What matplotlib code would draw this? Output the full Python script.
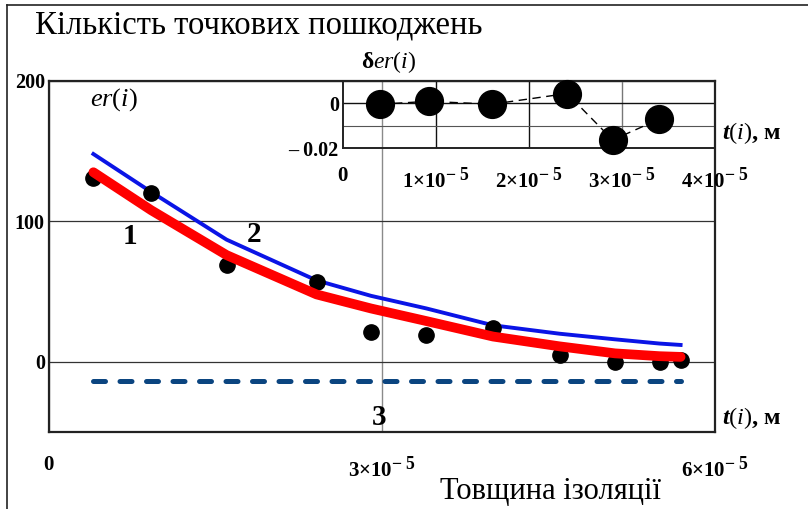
import matplotlib
matplotlib.use("Agg")
import matplotlib.pyplot as plt
import matplotlib._mathtext as _mt
from matplotlib.lines import Line2D

plt.rcParams["font.family"] = ["Liberation Serif", "DejaVu Serif"]
plt.rcParams["mathtext.fontset"] = "custom"
plt.rcParams["mathtext.rm"] = "Liberation Serif"
plt.rcParams["mathtext.it"] = "Liberation Serif:italic"
plt.rcParams["mathtext.bf"] = "Liberation Serif:bold"
plt.rcParams["mathtext.bfit"] = "Liberation Serif:bold:italic"
# exponents in the tick labels are almost as large as the mantissa
_mt.SHRINK_FACTOR = 0.85

# insulation thickness t(i), m
t = [4.0e-6, 9.2e-6, 1.60e-5, 2.41e-5, 2.90e-5, 3.40e-5,
     4.00e-5, 4.60e-5, 5.10e-5, 5.50e-5, 5.69e-5]
# measured number of point defects er(i)
er = [131, 120, 69, 57, 21, 19, 24, 5, 0, 0, 1]
# curve 1 (red) and curve 2 (blue)
curve1 = [135, 108, 76, 48, 38, 29, 18, 11, 6, 4, 3.5]
curve2 = [148, 121, 87, 58, 47, 38, 26, 20, 16, 13, 12]
# curve 3 (dashed)
curve3 = [-14] * len(t)

# relative error δer(i) for the first points
t_err = t[:6]
der = [-0.0004, 0.0009, -0.0004, 0.0044, -0.0164, -0.0071]

main_xticks = [0, 3e-5, 6e-5]
main_xlabels = ["$\\mathbf{0}$", "$\\mathbf{3{\\times}10}^{\\mathbf{-\\ 5}}$",
                "$\\mathbf{6{\\times}10}^{\\mathbf{-\\ 5}}$"]
main_yticks = [0, 100, 200]
main_ylabels = ["0", "100", "200"]
ins_xticks = [0, 1e-5, 2e-5, 3e-5, 4e-5]
ins_xlabels = ["$\\mathbf{0}$"] + ["$\\mathbf{%d{\\times}10}^{\\mathbf{-\\ 5}}$" % k for k in (1, 2, 3, 4)]
ins_yticks = [-0.02, -0.01, 0, 0.01]
ins_ylabels = ["\u2013 0.02", "", "0", ""]

W, H = 808, 509
fig = plt.figure(figsize=(W / 100, H / 100), dpi=100)
fig.patch.set_facecolor("white")

def fx(px):
    return px / W

def fy(py):
    return 1 - py / H

# ---- main plot ----
ax = fig.add_axes([fx(49), fy(432), fx(715) - fx(49), fy(81) - fy(432)])
ax.set_xlim(0, 6e-5)
ax.set_ylim(-50, 200)
ax.set_xticks(main_xticks)
ax.set_xticklabels(main_xlabels)
ax.set_yticks(main_yticks)
ax.set_yticklabels(main_ylabels, fontweight="bold")
ax.tick_params(axis="both", length=0)
ax.tick_params(axis="x", pad=17.5, labelsize=15)
ax.tick_params(axis="y", pad=3, labelsize=14.5)
for s in ax.spines.values():
    s.set_linewidth(1.6)
    s.set_color("#222222")
ax.xaxis.grid(True, color="#8a8a8a", lw=1.0)
ax.yaxis.grid(True, color="#333333", lw=0.9)
ax.set_axisbelow(True)

ax.plot(t, curve2, color="#0a14e6", lw=2.8, zorder=2)
ax.plot(t, er, "o", color="black", ms=11, zorder=3)
ax.plot(t, curve1, color="#ff0000", lw=7, solid_capstyle="round",
        solid_joinstyle="round", zorder=4)
ax.plot(t, curve3, color="#0b4580", lw=3.6, dashes=(2.4, 2.9),
        dash_capstyle="round", zorder=2)

ax.text(5.8e-6, 187, "$\\mathit{er}(\\mathit{i})$", fontsize=19, ha="center", va="center")
ax.text(7.3e-6, 89, "1", fontsize=21, fontweight="bold", ha="center", va="center")
ax.text(1.85e-5, 91, "2", fontsize=21, fontweight="bold", ha="center", va="center")
ax.text(2.97e-5, -40, "3", fontsize=21, fontweight="bold", ha="center", va="center")

# ---- inset: relative error ----
ins = fig.add_axes([fx(343), fy(148), fx(715) - fx(343), fy(81) - fy(148)])
ins.patch.set_alpha(0)
ins.set_xlim(0, 4e-5)
ins.set_ylim(-0.02, 0.01)
ins.set_xticks(ins_xticks)
ins.set_xticklabels(ins_xlabels)
ins.set_yticks(ins_yticks)
ins.set_yticklabels(ins_ylabels, fontweight="bold")
ins.tick_params(axis="both", length=0)
ins.tick_params(axis="x", pad=14, labelsize=15)
ins.tick_params(axis="y", pad=3, labelsize=14.5)
for s in ins.spines.values():
    s.set_linewidth(1.4)
    s.set_color("#222222")
for xv, c in zip([1e-5, 2e-5, 3e-5], ["#111111", "#111111", "#777777"]):
    ins.axvline(xv, color=c, lw=1.0, zorder=1)
ins.axhline(0, color="#111111", lw=1.0, zorder=1)
ins.axhline(-0.01, color="#555555", lw=0.8, zorder=1)
ins.plot(t_err, der, color="black", lw=1.0, dashes=(6, 4), zorder=2)
ins.plot(t_err, der, "o", color="black", ms=20, zorder=3, clip_on=False)

# ---- labels ----
fig.text(fx(35), fy(25), "Кількість точкових пошкоджень", fontsize=23.5,
         ha="left", va="center")
fig.text(fx(550), fy(492), "Товщина ізоляції", fontsize=22, ha="center", va="center")
fig.text(fx(722), fy(418), "$\\mathbfit{t}(\\mathit{i})$, м", fontsize=17.5,
         fontweight="bold", ha="left", va="center")
fig.text(fx(722), fy(133), "$\\mathbfit{t}(\\mathit{i})$, м", fontsize=17.5,
         fontweight="bold", ha="left", va="center")
fig.text(fx(389), fy(62), "δ$\\mathit{er}(\\mathit{i})$", fontsize=17,
         fontweight="bold", ha="center", va="center")

# page frame
fig.add_artist(Line2D([fx(7), fx(7)], [0, fy(5)], color="#222222", lw=1.2))
fig.add_artist(Line2D([fx(7), 1], [fy(5), fy(5)], color="#222222", lw=1.2))

fig.savefig("out.png", dpi=100)
